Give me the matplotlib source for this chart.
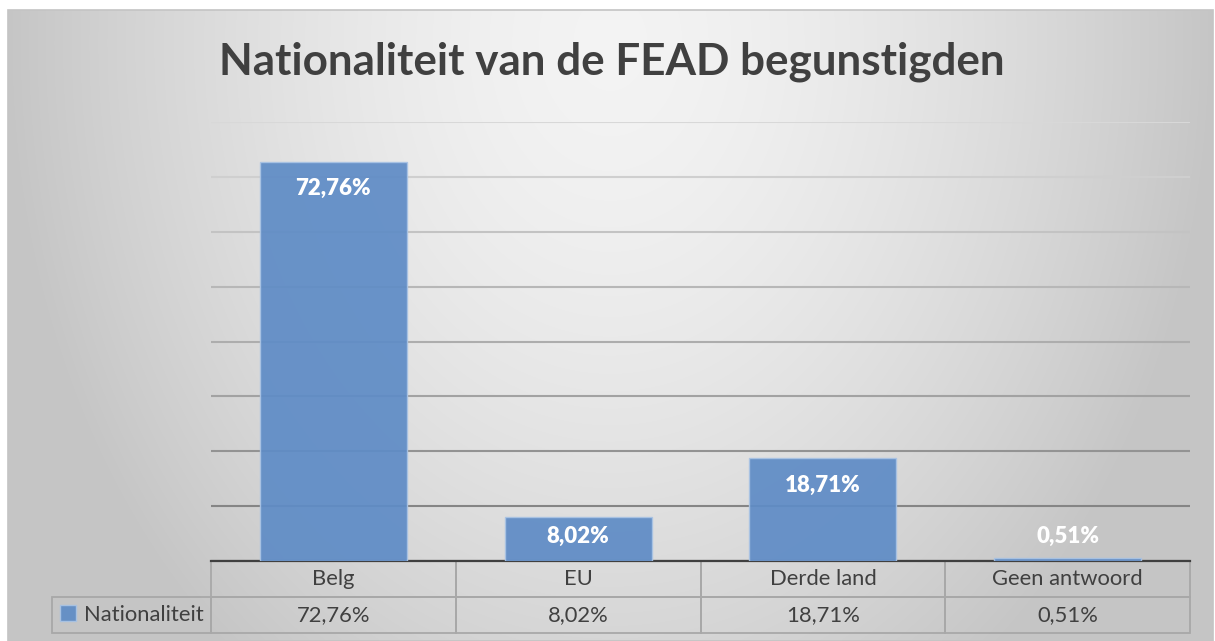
import numpy as np
import matplotlib
matplotlib.use("Agg")
import matplotlib.pyplot as plt
from matplotlib.patches import Rectangle

plt.rcParams['font.family'] = ['Lato', 'DejaVu Sans']

# ---- data ----
categories = ["Belg", "EU", "Derde land", "Geen antwoord"]
values = [72.76, 8.02, 18.71, 0.51]
value_labels = ["72,76%", "8,02%", "18,71%", "0,51%"]
series_name = "Nationaliteit"
title = "Nationaliteit van de FEAD begunstigden"
y_ticks = [0, 10, 20, 30, 40, 50, 60, 70, 80]

W, H = 1215, 641
fig = plt.figure(figsize=(W / 100, H / 100), dpi=100)
fig.patch.set_facecolor("white")

# ---- background gradient ----
bg = fig.add_axes([8 / W, 0, (1213 - 8) / W, 1 - 10 / H], zorder=-5)
ny, nx = 200, 400
xx, yy = np.meshgrid(np.linspace(0, 1, nx), np.linspace(0, 1, ny))
d = np.sqrt(((xx - 0.5) / 0.5) ** 2 + ((yy - 0.05) / 1.25) ** 2)
d = np.clip(d, 0, 1)
light, dark = 0.955, 0.775
g = light - (light - dark) * d ** 1.6
img = np.dstack([g, g, g])
bg.imshow(img, aspect="auto", extent=[0, 1, 1, 0], interpolation="bilinear")
bg.set_xlim(0, 1)
bg.set_ylim(1, 0)
bg.axis("off")
bg.add_patch(Rectangle((0, 0), 1, 1, transform=bg.transAxes, fill=False,
                       edgecolor="#c4c4c4", lw=1.2, clip_on=False))

# ---- main axes ----
ax = fig.add_axes([211 / W, 1 - 561 / H, 979 / W, 439 / H])
ax.set_facecolor("none")
x = np.arange(len(categories))
bars = ax.bar(x, values, width=0.6, color="#5f8cc6", alpha=0.93,
              edgecolor="#a9c3e4", linewidth=1.0, label=series_name, zorder=3)
ax.set_xlim(-0.5, len(categories) - 0.5)
ax.set_ylim(0, 80)
ax.set_yticks(y_ticks)
ax.set_yticklabels([])
ax.set_xticks([])
ax.tick_params(axis="y", length=0)
ax.yaxis.grid(True, linewidth=1.5, zorder=0)
ax.set_axisbelow(True)
grid_colors = ["#404040", "#858585", "#939393", "#a2a2a2", "#adadad",
               "#b7b7b7", "#c3c3c3", "#cfcfcf", "#d8d8d8"]
for gl, c in zip(ax.get_ygridlines(), grid_colors):
    gl.set_color(c)
for s in ["top", "left", "right"]:
    ax.spines[s].set_visible(False)
ax.spines["bottom"].set_color("#404040")
ax.spines["bottom"].set_linewidth(1.6)

# data labels
for xi, v, lab in zip(x, values, value_labels):
    yc = max(v - 4.9, 4.5)
    ax.text(xi, yc, lab, ha="center", va="center", color="white",
            fontsize=16, fontweight="heavy", zorder=5)

# ---- data table ----
tbl = ax.table(cellText=[value_labels], colLabels=categories,
               cellLoc="center", colWidths=[0.25] * 4,
               bbox=[0, -72 / 439, 1, 72 / 439])
tbl.add_cell(1, -1, width=0.25 * 159 / 245, height=0.1, text="",
             facecolor="none")
tbl.auto_set_font_size(False)
tbl.set_fontsize(15.8)
for (r, c), cell in tbl.get_celld().items():
    cell.set_height(0.1)
    cell.set_facecolor("none")
    cell.set_edgecolor("#a8a8a8")
    cell.set_linewidth(1.3)
    cell.get_text().set_color("#404040")

# legend key inside row label cell
fig.legend(handles=[bars], labels=[series_name], loc="center left",
           bbox_to_anchor=(60 / W, 1 - 615 / H), frameon=False,
           handlelength=0.75, handleheight=0.75, handletextpad=0.35,
           borderpad=0, borderaxespad=0, fontsize=15.8, labelcolor="#404040")

# ---- title ----
fig.text(612 / W, 1 - 62 / H, title, ha="center", va="center",
         fontsize=31.7, fontweight="bold", color="#404040")

fig.savefig("out.png", dpi=100)
